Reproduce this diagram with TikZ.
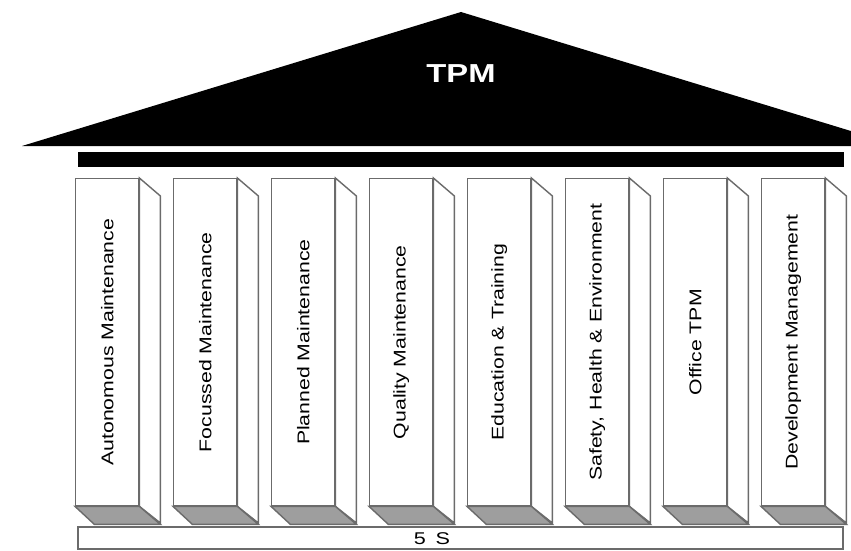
\documentclass[tikz,border=0pt]{standalone}
\usepackage{fontspec}
\setmainfont{Liberation Sans}
\begin{document}
\begin{tikzpicture}[x=1pt,y=-1pt,
  edge/.style={draw=black!58,line width=1.4pt,line join=miter},
  colbox/.style={edge,fill=white,minimum width=63pt,minimum height=327pt,inner sep=0pt,anchor=north west,
    font=\fontsize{17}{18}\selectfont},
  sideface/.style={edge,fill=white},
  footface/.style={edge,fill=black!38},
  roof/.style={fill=black,draw=none},
  beam/.style={fill=black,draw=none},
  plinth/.style={edge,fill=white,inner sep=0pt,font=\fontsize{17}{19}\selectfont}]
\useasboundingbox (0,0) rectangle (851,551);
\clip (0,0) rectangle (851,551);
% roof
\fill[roof] (22,146) -- (461,12) -- (900,146) -- cycle;
\node[text=white,font=\bfseries\fontsize{26}{28}\selectfont] (tpm) at (461,74) {\scalebox{1.26}[1]{TPM}};
% beam
\fill[beam] (78,152) rectangle (844,167);
% columns
\foreach \i/\t in {0/Autonomous Maintenance,1/Focussed Maintenance,2/Planned Maintenance,
  3/Quality Maintenance,4/Education \& Training,5/{Safety, Health \& Environment},6/Office TPM,
  7/Development Management}{
  \pgfmathsetmacro{\L}{75+98*\i}
  \node[colbox] (c\i) at (\L,178) {\rotatebox{90}{\scalebox{1.25}[1]{\t}}};
  \draw[sideface] (c\i.north east) -- ++(21,18) -- ++(0,327) -- (c\i.south east) -- cycle;
  \draw[footface] (c\i.south west) -- (c\i.south east) -- ++(21,18) -- ++(-66,0) -- cycle;
}
% 5S base
\draw[edge,fill=white] (78,527) rectangle (843,549);
\node[font=\fontsize{17}{19}\selectfont] (fives) at (432,538.5) {\scalebox{1.27}[1]{5\hspace{0.45em}S}};
\end{tikzpicture}
\end{document}
